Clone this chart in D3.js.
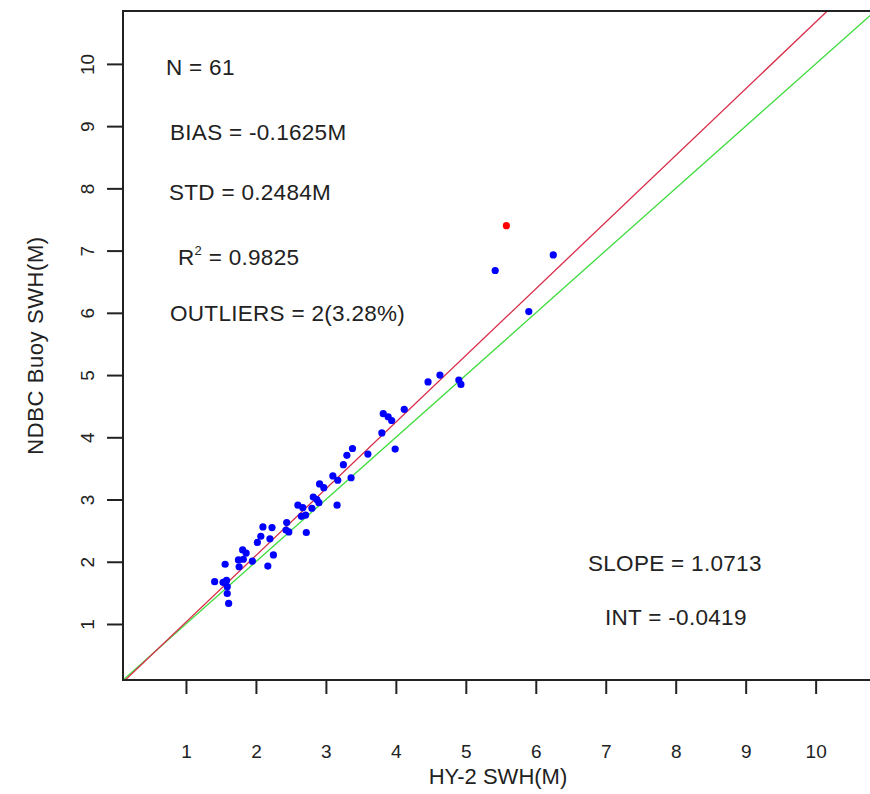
<!DOCTYPE html>
<html>
<head>
<meta charset="utf-8">
<script src="https://cdn.jsdelivr.net/npm/d3@7"></script>
<style>
  body { margin: 0; background: #fff; }
  svg { display: block; font-family: "Liberation Sans", Arial, sans-serif; }
</style>
</head>
<body>
<svg id="chart" width="870" height="794"></svg>
<script>
// HY-2 altimeter SWH vs NDBC buoy SWH (metres)
const hySwh = [4.46, 3.82, 3.89, 3.94, 4.12, 3.80, 3.99, 3.60, 3.38, 3.30, 3.25, 3.36, 3.10, 3.17,
  3.16, 2.91, 2.97, 2.82, 2.87, 2.90, 2.80, 2.60, 2.67, 2.65, 2.71, 2.72, 2.44, 2.43, 2.47,
  2.10, 2.23, 2.07, 2.02, 2.20, 2.25, 2.17, 1.81, 1.86, 1.75, 1.82, 1.95, 1.76, 1.56, 1.41,
  1.53, 1.58, 1.59, 1.59, 1.61, 6.25, 5.42, 5.90, 4.63, 4.90, 4.93];
const buoySwh = [4.89, 4.38, 4.33, 4.27, 4.45, 4.07, 3.81, 3.73, 3.82, 3.71, 3.56, 3.35, 3.38, 3.31,
  2.91, 3.25, 3.19, 3.04, 3.00, 2.95, 2.86, 2.91, 2.87, 2.73, 2.75, 2.47, 2.63, 2.51, 2.48,
  2.56, 2.55, 2.41, 2.31, 2.37, 2.11, 1.93, 2.19, 2.14, 2.03, 2.04, 2.01, 1.92, 1.96, 1.68,
  1.67, 1.70, 1.60, 1.49, 1.33, 6.93, 6.68, 6.02, 5.00, 4.92, 4.85];

// flagged outlier
const outlierHy = [5.58];
const outlierBuoy = [7.40];

// fit and stats
const fitSlope = 1.0713;
const fitIntercept = -0.0419;
const tickValues = [1, 2, 3, 4, 5, 6, 7, 8, 9, 10];
const statsLeft = ["N = 61", "BIAS = -0.1625M", "STD = 0.2484M", "R2 = 0.9825", "OUTLIERS = 2(3.28%)"];
const statsRight = ["SLOPE = 1.0713", "INT = -0.0419"];

const plot = { left: 123, right: 873, top: 11, bottom: 680 };

const svg = d3.select("#chart");

const x = d3.scaleLinear().domain([0.1, 10.82]).range([plot.left, plot.right]);
const y = d3.scaleLinear().domain([0.1, 10.85]).range([plot.bottom, plot.top]);

svg.append("defs").append("clipPath").attr("id", "plot-clip")
  .append("rect")
  .attr("x", plot.left).attr("y", plot.top)
  .attr("width", plot.right - plot.left).attr("height", plot.bottom - plot.top);

// axes
const xAxis = svg.append("g")
  .attr("transform", `translate(0,${plot.bottom})`)
  .call(d3.axisBottom(x).tickValues(tickValues).tickSize(14).tickPadding(51).tickFormat(d3.format("d")));
const yAxis = svg.append("g")
  .attr("transform", `translate(${plot.left},0)`)
  .call(d3.axisLeft(y).tickValues(tickValues).tickSize(16).tickPadding(0).tickFormat(d3.format("d")));

[xAxis, yAxis].forEach(a => {
  a.select(".domain").remove();
  a.selectAll(".tick line").attr("stroke", "#222").attr("stroke-width", 2);
  a.selectAll(".tick text").attr("fill", "#222").style("font-size", "19px").style("font-family", "Liberation Sans, Arial, sans-serif");
});

// rotate y tick labels parallel to axis
yAxis.selectAll(".tick text")
  .attr("x", null).attr("dy", null)
  .attr("text-anchor", "middle")
  .attr("transform", "translate(-36,0) rotate(-90)")
  .attr("dy", "0.35em");

// reference lines: 1:1 (green) and regression (red)
const lines = svg.append("g").attr("clip-path", "url(#plot-clip)").attr("fill", "none");
const xs = [0, 12];
lines.append("path")
  .attr("d", d3.line()(xs.map(v => [x(v), y(v)])))
  .attr("stroke", "#3ddc3d").attr("stroke-width", 1.3);
lines.append("path")
  .attr("d", d3.line()(xs.map(v => [x(v), y(fitSlope * v + fitIntercept)])))
  .attr("stroke", "#d82c48").attr("stroke-width", 1.3);

// points
svg.append("g").selectAll("circle")
  .data(d3.range(hySwh.length))
  .enter().append("circle")
  .attr("cx", i => x(hySwh[i]))
  .attr("cy", i => y(buoySwh[i]))
  .attr("r", 3.6)
  .attr("fill", "#0000ff");
svg.append("g").selectAll("circle")
  .data(d3.range(outlierHy.length))
  .enter().append("circle")
  .attr("cx", i => x(outlierHy[i]))
  .attr("cy", i => y(outlierBuoy[i]))
  .attr("r", 3.6)
  .attr("fill", "#ff0000");

// frame (right side is past the edge of the picture)
svg.append("rect")
  .attr("x", plot.left).attr("y", plot.top)
  .attr("width", plot.right - plot.left).attr("height", plot.bottom - plot.top)
  .attr("fill", "none").attr("stroke", "#222").attr("stroke-width", 2);

// axis titles
svg.append("text")
  .attr("x", (plot.left + plot.right) / 2).attr("y", 784)
  .attr("text-anchor", "middle").attr("fill", "#222")
  .style("font-size", "22px")
  .text("HY-2 SWH(M)");
svg.append("text")
  .attr("transform", `translate(43,${(plot.top + plot.bottom) / 2}) rotate(-90)`)
  .attr("text-anchor", "middle").attr("fill", "#222")
  .style("font-size", "22px").style("letter-spacing", "0.6px")
  .text("NDBC Buoy SWH(M)");

// statistics text
const leftPos = [[166, 75], [170, 140], [169, 200], [178, 265], [170, 321]];
const stats = svg.append("g").attr("fill", "#222").style("font-size", "22.5px").style("letter-spacing", "0.3px");
statsLeft.forEach((s, i) => {
  const t = stats.append("text").attr("x", leftPos[i][0]).attr("y", leftPos[i][1]);
  if (s.startsWith("R2")) {
    t.append("tspan").text("R");
    t.append("tspan").attr("dy", -10).style("font-size", "13px").text("2");
    t.append("tspan").attr("dy", 10).text(s.slice(2));
  } else {
    t.text(s);
  }
});
const rightPos = [[588, 571], [605, 625]];
statsRight.forEach((s, i) => {
  stats.append("text").attr("x", rightPos[i][0]).attr("y", rightPos[i][1]).text(s);
});
</script>
</body>
</html>
